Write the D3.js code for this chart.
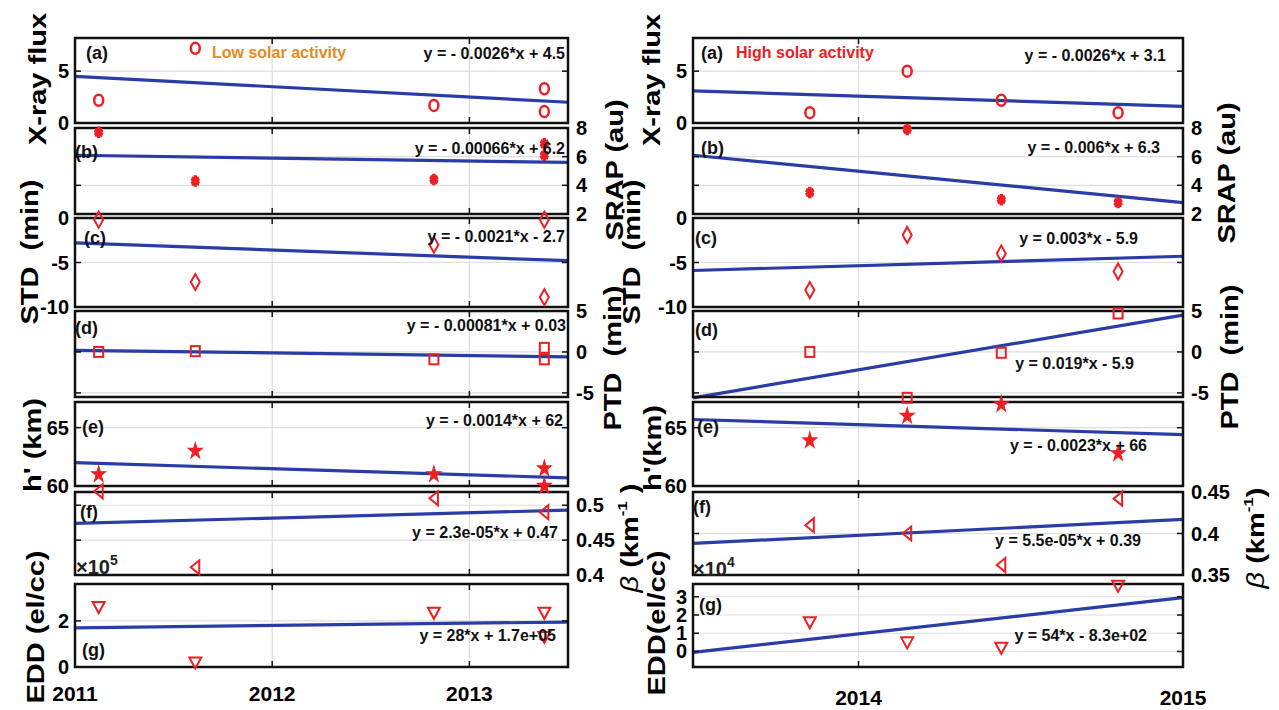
<!DOCTYPE html>
<html>
<head>
<meta charset="utf-8">
<script src="https://cdn.jsdelivr.net/npm/d3@7"></script>
<style>
body { margin: 0; background: #fff; }
text { font-family: "Liberation Sans", Arial, sans-serif; font-weight: bold; }
</style>
</head>
<body>
<script>
// ---- data ----
// low solar activity, [decimal year, value]
var lowXray = [[2011.12, 2.2], [2011.61, 7.2], [2012.82, 1.7], [2013.38, 3.3], [2013.38, 1.1]];
var lowSrap = [[2011.12, 7.7], [2011.61, 4.3], [2012.82, 4.4], [2013.38, 6.9], [2013.38, 6.1]];
var lowStd  = [[2011.12, -0.2], [2011.61, -7.2], [2012.82, -3.0], [2013.38, -0.2], [2013.38, -8.9]];
var lowPtd  = [[2011.12, 0], [2011.61, 0.1], [2012.82, -0.9], [2013.38, 0.5], [2013.38, -0.9]];
var lowHp   = [[2011.12, 61.0], [2011.61, 63.0], [2012.82, 61.0], [2013.38, 61.5], [2013.38, 60.0]];
var lowBeta = [[2011.12, 0.52], [2011.61, 0.411], [2012.82, 0.51], [2013.38, 0.49]];
var lowEdd  = [[2011.12, 2.6], [2011.61, 0.2], [2012.82, 2.35], [2013.38, 2.35], [2013.38, 1.3]];

// high solar activity
var highXray = [[2013.85, 1.0], [2014.15, 5.0], [2014.44, 2.2], [2014.80, 1.0]];
var highSrap = [[2013.85, 3.5], [2014.15, 7.9], [2014.44, 3.0], [2014.80, 2.8]];
var highStd  = [[2013.85, -8.1], [2014.15, -1.9], [2014.44, -4.0], [2014.80, -6.0]];
var highPtd  = [[2013.85, 0], [2014.15, -5.6], [2014.44, -0.1], [2014.80, 4.7]];
var highHp   = [[2013.85, 63.9], [2014.15, 66.0], [2014.44, 67.0], [2014.80, 62.8]];
var highBeta = [[2013.85, 0.41], [2014.15, 0.40], [2014.44, 0.362], [2014.80, 0.442]];
var highEdd  = [[2013.85, 1.6], [2014.15, 0.5], [2014.44, 0.2], [2014.80, 3.6]];

// fitted line, value at left and right end of each panel
var lowFit  = [[4.5, 2.0], [6.1, 5.6], [-2.8, -4.8], [0.2, -0.6], [62.0, 60.7], [0.474, 0.493], [1.7, 1.95]];
var highFit = [[3.1, 1.6], [6.1, 2.8], [-5.9, -4.3], [-5.6, 4.5], [65.7, 64.4], [0.388, 0.417], [-0.05, 2.95]];

var lowEq = ["y = - 0.0026*x + 4.5", "y = - 0.00066*x + 6.2", "y = - 0.0021*x - 2.7",
  "y = - 0.00081*x + 0.03", "y = - 0.0014*x + 62", "y = 2.3e-05*x + 0.47", "y = 28*x + 1.7e+05"];
var highEq = ["y = - 0.0026*x + 3.1", "y = - 0.006*x + 6.3", "y = 0.003*x - 5.9",
  "y = 0.019*x - 5.9", "y = - 0.0023*x + 66", "y = 5.5e-05*x + 0.39", "y = 54*x - 8.3e+02"];

var lowYDomain  = [[0, 8.2], [2, 8], [-10, 0], [-5.5, 5], [60, 67.2], [0.4, 0.519], [0, 3.6]];
var highYDomain = [[0, 8.2], [2, 8], [-10, 0], [-5.5, 5], [60, 67.2], [0.35, 0.45], [-0.85, 3.7]];
var lowYTicks  = [[0, 5], [2, 4, 6, 8], [-10, -5, 0], [-5, 0, 5], [60, 65], [0.4, 0.45, 0.5], [0, 2]];
var highYTicks = [[0, 5], [2, 4, 6, 8], [-10, -5, 0], [-5, 0, 5], [60, 65], [0.35, 0.4, 0.45], [0, 1, 2, 3]];

var lowYears  = [2011, 2012, 2013];
var highYears = [2014, 2015];
var letters = ["(a)", "(b)", "(c)", "(d)", "(e)", "(f)", "(g)"];
var markerTypes = ["circle", "asterisk", "diamond", "square", "star", "tleft", "tdown"];

// ---- layout ----
var red = "rgb(236,32,36)";
var blue = "rgb(42,60,166)";
var orange = "rgb(226,140,34)";
var gridColor = "rgb(222,222,222)";

var boxTop = [38, 128, 218, 311, 402, 492, 584];
var boxBot = [123, 214, 307, 397, 486, 575, 667];
var labelSide = ["left", "right", "left", "right", "left", "right", "left"];

var svg = d3.select("body").append("svg")
  .attr("width", 1279)
  .attr("height", 710);

var gBack = svg.append("g");
var gGrid = svg.append("g");
var gLine = svg.append("g");
var gBox = svg.append("g");
var gMark = svg.append("g");
var gText = svg.append("g");

function drawMarker(type, cx, cy) {
  var g = gMark.append("g").attr("transform", "translate(" + cx + "," + cy + ")");
  if (type === "circle") {
    g.append("ellipse").attr("rx", 4.5).attr("ry", 5.5)
      .attr("fill", "none").attr("stroke", red).attr("stroke-width", 2.5);
  } else if (type === "asterisk") {
    g.append("path").attr("d", d3.symbol(d3.symbolAsterisk, 55)())
      .attr("transform", "scale(1,1.3)")
      .attr("fill", "none").attr("stroke", red).attr("stroke-width", 3.5);
  } else if (type === "diamond") {
    g.append("path").attr("d", "M0,-8L4.5,0L0,8L-4.5,0Z")
      .attr("fill", "none").attr("stroke", red).attr("stroke-width", 2);
  } else if (type === "square") {
    g.append("rect").attr("x", -4.5).attr("y", -5).attr("width", 9).attr("height", 10)
      .attr("fill", "none").attr("stroke", red).attr("stroke-width", 2);
  } else if (type === "star") {
    g.append("path").attr("d", d3.symbol(d3.symbolStar, 60)())
      .attr("transform", "scale(1,1.15)")
      .attr("fill", red).attr("stroke", red).attr("stroke-width", 1);
  } else if (type === "tleft") {
    g.append("path").attr("d", "M-4.5,0L4,-7L4,7Z")
      .attr("fill", "none").attr("stroke", red).attr("stroke-width", 2);
  } else if (type === "tdown") {
    g.append("path").attr("d", "M-6,-5L6,-5L0,6Z")
      .attr("fill", "none").attr("stroke", red).attr("stroke-width", 2);
  }
}

function vLabel(x, yc, parts, size) {
  var t = gText.append("text")
    .attr("transform", "translate(" + x + "," + yc + ") rotate(-90) scale(1,0.8)")
    .attr("text-anchor", "middle")
    .attr("dominant-baseline", "central")
    .attr("font-size", size || 29)
    .attr("xml:space", "preserve")
    .style("white-space", "pre");
  parts.forEach(function(p) {
    var s = t.append("tspan").text(p.t);
    if (p.sup) s.attr("font-size", 17).attr("dy", -11);
    if (p.down) s.attr("dy", 11);
    if (p.it) s.attr("font-style", "italic").attr("font-weight", "normal");
  });
}

function drawHalf(cfg) {
  var x = d3.scaleLinear().domain(cfg.xDomain).range(cfg.xRange);
  var x0 = cfg.xRange[0], x1 = cfg.xRange[1];

  for (var i = 0; i < 7; i++) {
    var y = d3.scaleLinear().domain(cfg.yDomain[i]).range([boxBot[i], boxTop[i]]);
    var top = boxTop[i], bot = boxBot[i];

    gBack.append("rect").attr("x", x0).attr("y", top)
      .attr("width", x1 - x0).attr("height", bot - top).attr("fill", "#fff");

    // grid
    cfg.yTicks[i].forEach(function(t) {
      var yy = y(t);
      if (yy > top + 2 && yy < bot - 2) {
        gGrid.append("line").attr("x1", x0).attr("x2", x1).attr("y1", yy).attr("y2", yy)
          .attr("stroke", gridColor).attr("stroke-width", 1.2);
      }
    });
    cfg.years.forEach(function(t) {
      var xx = x(t);
      if (xx > x0 + 2 && xx < x1 - 2) {
        gGrid.append("line").attr("x1", xx).attr("x2", xx).attr("y1", top).attr("y2", bot)
          .attr("stroke", gridColor).attr("stroke-width", 1.2);
      }
    });

    // fitted line
    gLine.append("line")
      .attr("x1", x(cfg.xDomain[0])).attr("y1", y(cfg.fit[i][0]))
      .attr("x2", x(cfg.xDomain[1])).attr("y2", y(cfg.fit[i][1]))
      .attr("stroke", blue).attr("stroke-width", 3.2);

    // box and ticks
    gBox.append("rect").attr("x", x0).attr("y", top)
      .attr("width", x1 - x0).attr("height", bot - top)
      .attr("fill", "none").attr("stroke", "#111").attr("stroke-width", 2.5);
    cfg.yTicks[i].forEach(function(t) {
      var yy = y(t);
      gBox.append("line").attr("x1", x0).attr("x2", x0 + 6).attr("y1", yy).attr("y2", yy)
        .attr("stroke", "#111").attr("stroke-width", 1.5);
      gBox.append("line").attr("x1", x1 - 6).attr("x2", x1).attr("y1", yy).attr("y2", yy)
        .attr("stroke", "#111").attr("stroke-width", 1.5);
      var side = labelSide[i];
      gText.append("text")
        .attr("x", side === "left" ? x0 - 6 : x1 + 8)
        .attr("y", yy)
        .attr("text-anchor", side === "left" ? "end" : "start")
        .attr("dominant-baseline", "central")
        .attr("font-size", 20)
        .text(String(t));
    });
    cfg.years.forEach(function(t) {
      var xx = x(t);
      gBox.append("line").attr("x1", xx).attr("x2", xx).attr("y1", top).attr("y2", top + 6)
        .attr("stroke", "#111").attr("stroke-width", 1.5);
      gBox.append("line").attr("x1", xx).attr("x2", xx).attr("y1", bot - 6).attr("y2", bot)
        .attr("stroke", "#111").attr("stroke-width", 1.5);
    });

    // markers
    cfg.series[i].forEach(function(d) {
      drawMarker(markerTypes[i], x(d[0]), y(d[1]));
    });

    // equation and panel letter
    gText.append("text")
      .attr("x", cfg.eqPos[i][0]).attr("y", cfg.eqPos[i][1])
      .attr("text-anchor", "end").attr("dominant-baseline", "central")
      .attr("font-size", 16).attr("fill", "#111")
      .text(cfg.eq[i]);
    gText.append("text")
      .attr("x", cfg.letterPos[i][0]).attr("y", cfg.letterPos[i][1])
      .attr("dominant-baseline", "central")
      .attr("font-size", 18).attr("fill", "#111")
      .text(letters[i]);
  }

  // year labels
  cfg.years.forEach(function(t) {
    gText.append("text")
      .attr("x", x(t)).attr("y", cfg.yearY)
      .attr("text-anchor", "middle").attr("dominant-baseline", "central")
      .attr("font-size", 21)
      .text(String(t));
  });
}

drawHalf({
  xDomain: [2011, 2013.5], xRange: [75, 568],
  yDomain: lowYDomain, yTicks: lowYTicks, years: lowYears,
  series: [lowXray, lowSrap, lowStd, lowPtd, lowHp, lowBeta, lowEdd],
  fit: lowFit, eq: lowEq,
  eqPos: [[565, 53], [565, 148], [565, 236], [566, 325], [563, 420], [558, 532], [556, 635]],
  letterPos: [[86, 53], [75, 152], [84, 238], [75, 328], [82, 427], [80, 512], [82, 650]],
  yearY: 693
});

drawHalf({
  xDomain: [2013.49, 2015], xRange: [693, 1183],
  yDomain: highYDomain, yTicks: highYTicks, years: highYears,
  series: [highXray, highSrap, highStd, highPtd, highHp, highBeta, highEdd],
  fit: highFit, eq: highEq,
  eqPos: [[1166, 55], [1160, 147], [1138, 238], [1134, 363], [1147, 445], [1141, 540], [1147, 635]],
  letterPos: [[701, 53], [701, 148], [695, 238], [695, 330], [697, 427], [693, 507], [699, 605]],
  yearY: 697
});

// annotations
gText.append("text").attr("x", 212).attr("y", 52).attr("dominant-baseline", "central")
  .attr("font-size", 16).attr("fill", orange).text("Low solar activity");
gText.append("text").attr("x", 736).attr("y", 52).attr("dominant-baseline", "central")
  .attr("font-size", 16).attr("fill", red).text("High solar activity");

function expLabel(x, y, e) {
  var t = gText.append("text").attr("x", x).attr("y", y)
    .attr("font-size", 20).attr("font-weight", "normal").attr("fill", "#222");
  t.append("tspan").text("\u00d710");
  t.append("tspan").attr("font-size", 14).attr("dy", -9).text(e);
}
expLabel(76, 574, "5");
expLabel(693, 576, "4");

// axis titles
vLabel(38, 79, [{t: "X-ray flux"}]);
vLabel(30, 252, [{t: "STD  (min)"}]);
vLabel(33, 445, [{t: "h' (km)"}]);
vLabel(36, 627, [{t: "EDD (el/cc)"}]);
vLabel(615, 170, [{t: "SRAP (au)"}]);
vLabel(613, 358, [{t: "PTD  (min)"}]);
vLabel(630, 538, [{t: "\u03b2", it: true}, {t: " (km"}, {t: "-1", sup: true}, {t: " )", down: true}]);

vLabel(652, 80, [{t: "X-ray flux"}]);
vLabel(632, 252, [{t: "STD  (min)"}]);
vLabel(653, 448, [{t: "h'(km)"}]);
vLabel(657, 623, [{t: "EDD(el/cc)"}]);
vLabel(1227, 173, [{t: "SRAP (au)"}]);
vLabel(1230, 357, [{t: "PTD  (min)"}]);
vLabel(1256, 538, [{t: "\u03b2", it: true}, {t: " (km"}, {t: "-1", sup: true}, {t: ")", down: true}]);
</script>
</body>
</html>
